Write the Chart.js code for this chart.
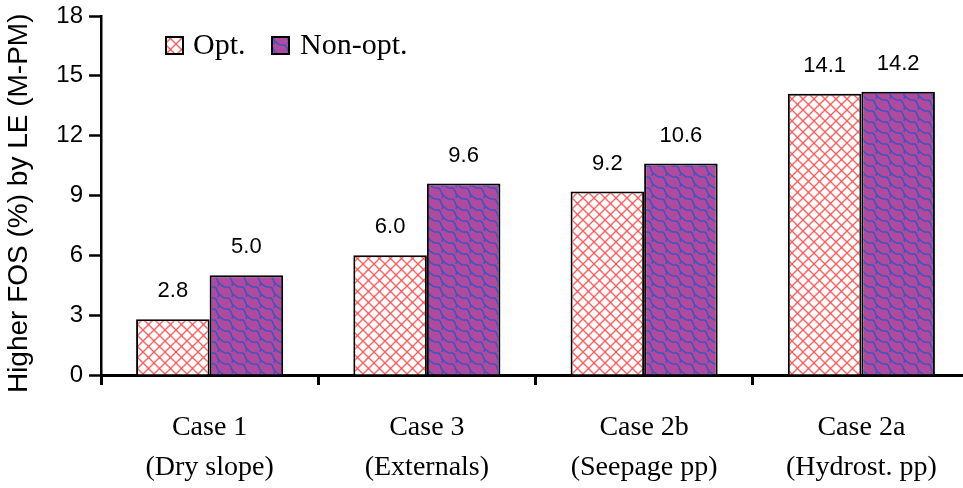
<!DOCTYPE html>
<html><head><meta charset="utf-8">
<script src="https://cdn.jsdelivr.net/npm/chart.js@4.4.0/dist/chart.umd.min.js"></script>
<style>html,body{margin:0;padding:0;background:#fff;overflow:hidden;width:963px;height:488px}canvas{display:block}</style>
</head><body>
<canvas id="c" width="970" height="488"></canvas>
<script>
const categories = [["Case 1", "(Dry slope)"], ["Case 3", "(Externals)"], ["Case 2b", "(Seepage pp)"], ["Case 2a", "(Hydrost. pp)"]];
const seriesNames = ["Opt.", "Non-opt."];
const optValues = [2.8, 6.0, 9.2, 14.1];
const nonOptValues = [5.0, 9.6, 10.6, 14.2];
const yTicks = [0, 3, 6, 9, 12, 15, 18];
const yTitle = "Higher FOS (%) by LE (M-PM)  ";

function makeOptPattern() {
  const s = 11, c = document.createElement('canvas');
  c.width = s; c.height = s;
  const g = c.getContext('2d');
  g.fillStyle = '#fff'; g.fillRect(0, 0, s, s);
  g.strokeStyle = 'rgba(255,70,70,0.85)'; g.lineWidth = 1.4;
  for (const dx of [-s, 0, s]) {
    g.beginPath(); g.moveTo(dx, 0); g.lineTo(dx + s, s); g.stroke();
    g.beginPath(); g.moveTo(dx + s, 0); g.lineTo(dx, s); g.stroke();
  }
  return g.createPattern(c, 'repeat');
}
function makeNonOptPattern() {
  const w = 14, h = 11, c = document.createElement('canvas');
  c.width = w; c.height = h;
  const g = c.getContext('2d');
  g.fillStyle = '#B04A9E'; g.fillRect(0, 0, w, h);
  g.strokeStyle = '#3F55BE'; g.lineWidth = 1.6;
  for (const dx of [-w, 0, w]) for (const dy of [-h, 0, h]) {
    g.beginPath();
    g.moveTo(dx, dy + 1);
    g.lineTo(dx + 4, dy + 1);
    g.bezierCurveTo(dx + 8, dy + 1, dx + 6, dy + 6, dx + 9, dy + 8);
    g.bezierCurveTo(dx + 11, dy + 10, dx + 13, dy + 11, dx + 14, dy + 12);
    g.stroke();
    g.beginPath();
    g.moveTo(dx + 9, dy + 8);
    g.lineTo(dx + 8, dy + 11);
    g.stroke();
  }
  return g.createPattern(c, 'repeat');
}
const optFill = makeOptPattern();
const nonOptFill = makeNonOptPattern();

const valueLabels = {
  id: 'valueLabels',
  afterDatasetsDraw(chart) {
    const ctx = chart.ctx;
    ctx.save();
    ctx.font = '22px "Liberation Sans", Arial, sans-serif';
    ctx.fillStyle = '#000'; ctx.textAlign = 'center'; ctx.textBaseline = 'middle';
    chart.data.datasets.forEach((ds, i) => {
      chart.getDatasetMeta(i).data.forEach((bar, j) => {
        ctx.fillText(ds.data[j].toFixed(1), bar.x, bar.y - 28);
      });
    });
    ctx.restore();
  }
};
const innerLegend = {
  id: 'innerLegend',
  afterDraw(chart) {
    const ctx = chart.ctx;
    const items = [{x: 166, tx: 193}, {x: 272, tx: 300}];
    ctx.save();
    ctx.font = '30px "Liberation Serif", "Times New Roman", serif';
    ctx.textBaseline = 'middle'; ctx.textAlign = 'left';
    chart.data.datasets.forEach((ds, i) => {
      const it = items[i];
      ctx.fillStyle = ds.backgroundColor;
      ctx.fillRect(it.x, 37, 17, 17);
      ctx.strokeStyle = '#000'; ctx.lineWidth = 2;
      ctx.strokeRect(it.x, 37, 17, 17);
      ctx.fillStyle = '#000';
      ctx.fillText(ds.label, it.tx, 46);
    });
    ctx.restore();
  }
};

new Chart(document.getElementById('c'), {
  type: 'bar',
  data: {
    labels: categories,
    datasets: [
      {label: seriesNames[0], data: optValues, backgroundColor: optFill, borderColor: '#000', borderWidth: 2, borderSkipped: 'bottom'},
      {label: seriesNames[1], data: nonOptValues, backgroundColor: nonOptFill, borderColor: '#000', borderWidth: 2, borderSkipped: 'bottom'}
    ]
  },
  options: {
    responsive: false,
    animation: false,
    devicePixelRatio: 1,
    layout: {padding: {top: 16, right: 0, bottom: 0, left: 0}},
    categoryPercentage: 0.677,
    barPercentage: 1,
    plugins: {legend: {display: false}, tooltip: {enabled: false}},
    scales: {
      x: {
        afterFit(s) { s.height = 113; },
        grid: {offset: true, drawOnChartArea: false, drawTicks: true, tickLength: 10, tickWidth: 3, tickColor: '#000'},
        border: {display: true, color: '#000', width: 3},
        ticks: {color: '#000', padding: 23, maxRotation: 0, font: {family: '"Liberation Serif", "Times New Roman", serif', size: 28, lineHeight: 1.43}}
      },
      y: {
        min: 0, max: 18,
        afterFit(s) { s.width = 101; s.paddingTop = 0; s.paddingBottom = 0; },
        afterBuildTicks(s) { s.ticks = yTicks.map(v => ({value: v})); },
        grid: {drawOnChartArea: false, drawTicks: true, tickLength: 12, tickWidth: 2.5, tickColor: '#000'},
        border: {display: true, color: '#000', width: 2.5},
        ticks: {color: '#000', padding: 6, font: {family: '"Liberation Sans", Arial, sans-serif', size: 24}},
        title: {display: true, text: yTitle, color: '#000', padding: {top: 2, bottom: 4}, font: {family: '"Liberation Sans", Arial, sans-serif', size: 28}}
      }
    }
  },
  plugins: [valueLabels, innerLegend]
});
</script>
</body></html>
